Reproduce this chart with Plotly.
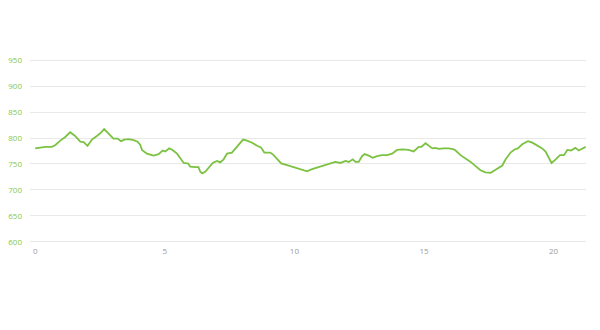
import plotly.graph_objects as go

distance_km = [0.0, 0.19, 0.39, 0.64, 0.77, 0.97, 1.16, 1.35, 1.54, 1.74, 1.87, 2.02, 2.19, 2.38,
               2.51, 2.66, 2.83, 3.02, 3.18, 3.31, 3.44, 3.6, 3.8, 3.95, 4.05, 4.12, 4.31, 4.57,
               4.76, 4.92, 5.02, 5.17, 5.3, 5.47, 5.6, 5.73, 5.9, 5.98, 6.18, 6.3, 6.37, 6.44,
               6.56, 6.69, 6.85, 7.01, 7.14, 7.27, 7.4, 7.59, 7.72, 7.88, 8.02, 8.17, 8.37,
               8.56, 8.71, 8.84, 9.07, 9.2, 9.33, 9.49, 9.72, 9.97, 10.23, 10.49, 10.68, 10.94,
               11.13, 11.39, 11.58, 11.78, 11.97, 12.1, 12.25, 12.36, 12.48, 12.61, 12.71,
               12.87, 13.02, 13.19, 13.39, 13.58, 13.77, 13.96, 14.16, 14.41, 14.6, 14.8, 14.9,
               15.06, 15.19, 15.32, 15.44, 15.57, 15.76, 15.96, 16.15, 16.22, 16.41, 16.6,
               16.8, 16.99, 17.18, 17.37, 17.57, 17.7, 17.89, 18.02, 18.15, 18.34, 18.49,
               18.62, 18.79, 19.01, 19.18, 19.37, 19.56, 19.69, 19.82, 19.92, 20.08, 20.25,
               20.4, 20.53, 20.67, 20.84, 20.97, 21.1, 21.24]
elevation_m = [780, 782, 783, 783, 786, 795, 802, 811, 804, 793, 792, 785, 797, 804,
               809, 817, 808, 799, 799, 794, 797, 798, 796, 793, 787, 777, 770, 766,
               769, 776, 774, 780, 777, 770, 761, 752, 751, 745, 744, 744, 735, 732,
               735, 742, 752, 756, 753, 759, 770, 772, 780, 788, 797, 795, 791,
               785, 782, 772, 772, 767, 759, 751, 748, 744, 740, 736, 740, 744,
               748, 751, 754, 752, 756, 754, 759, 754, 754, 765, 769,
               766, 762, 765, 767, 767, 770, 777, 778, 777, 774, 783, 783,
               790, 785, 780, 781, 779, 780, 780, 778, 776, 767, 761,
               754, 746, 738, 734, 733, 737, 744, 747, 759, 772, 778,
               780, 788, 794, 791, 785, 780, 774, 761, 752, 759, 767,
               767, 777, 776, 781, 776, 780, 783]

y_ticks = [600, 650, 700, 750, 800, 850, 900, 950]
x_ticks = [0, 5, 10, 15, 20]

fig = go.Figure()
fig.add_trace(go.Scatter(
    x=distance_km, y=elevation_m, mode="lines",
    line=dict(color="#7cc242", width=1.8, shape="linear"),
    hoverinfo="skip", showlegend=False,
))

fig.update_layout(
    width=600, height=330,
    margin=dict(l=30, r=14, t=59, b=87),
    paper_bgcolor="white", plot_bgcolor="white",
    font=dict(family="Open Sans, sans-serif", size=8),
    xaxis=dict(
        range=[-0.2, 21.25], tickvals=x_ticks, ticktext=[str(v) for v in x_ticks],
        showgrid=False, zeroline=False, showline=False, ticks="", automargin=False,
        tickfont=dict(color="#9a9a9a", size=8), ticklabelstandoff=2,
    ),
    yaxis=dict(
        range=[598, 952], tickvals=y_ticks, ticktext=[str(v) for v in y_ticks],
        showgrid=True, gridcolor="#e8e8e8", gridwidth=1, automargin=False,
        zeroline=False, showline=False, ticks="",
        tickfont=dict(color="#8cc63f", size=8), ticklabelstandoff=7,
    ),
)

fig.write_html("out.html")
